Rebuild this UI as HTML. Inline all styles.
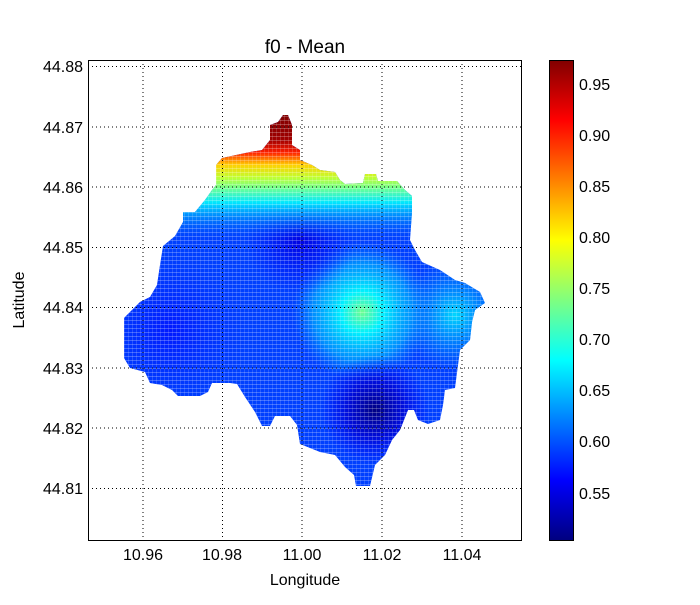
<!DOCTYPE html>
<html><head><style>
body{margin:0;background:#fff;width:700px;height:600px;overflow:hidden;font-family:"Liberation Sans",sans-serif}
</style></head><body>
<svg width="700" height="600" xmlns="http://www.w3.org/2000/svg" font-family="Liberation Sans, sans-serif">
<defs>
<clipPath id="c"><polygon points="216,185 216,165 222,158 250,152 262,150 270,140 270,125 278,122 283,115 288,115 292,125 292,145 300,150 300,160 312,165 320,170 335,172 340,180 345,184 363,183 365,174 376,174 378,181 397,181 405,190 412,196 412,212 410,240 415,250 422,262 440,270 455,280 465,283 480,292 485,303 475,310 472,322 470,340 460,350 455,388 445,390 443,405 440,420 428,424 418,420 414,410 408,410 400,430 392,440 385,455 375,465 370,486 356,486 354,475 345,467 335,455 320,452 300,444 297,425 290,416 275,416 270,426 262,426 255,412 245,397 237,384 230,383 212,383 208,392 200,396 178,396 172,390 162,385 150,383 145,372 130,368 124,358 124,318 140,302 150,297 157,285 160,265 163,246 175,236 183,222 183,212 195,212 205,200 212,190"/></clipPath>
<linearGradient id="top" x1="0" y1="115" x2="0" y2="240" gradientUnits="userSpaceOnUse">
<stop offset="0" stop-color="#800000"/><stop offset="0.2" stop-color="#a00000"/><stop offset="0.3" stop-color="#ff2000"/><stop offset="0.4" stop-color="#ffd000"/><stop offset="0.5" stop-color="#c0ff30"/><stop offset="0.6" stop-color="#60ffa0"/><stop offset="0.7" stop-color="#00e8ff"/><stop offset="0.85" stop-color="#0090ff" stop-opacity="0.6"/><stop offset="1" stop-color="#0050ff" stop-opacity="0"/>
</linearGradient>
<radialGradient id="g1" cx="362" cy="312" r="70" gradientUnits="userSpaceOnUse"><stop offset="0" stop-color="#70ff90"/><stop offset="0.3" stop-color="#00f0ff"/><stop offset="0.7" stop-color="#00b0ff" stop-opacity="0.7"/><stop offset="1" stop-color="#0080ff" stop-opacity="0"/></radialGradient>
<radialGradient id="g2" cx="455" cy="315" r="55" gradientUnits="userSpaceOnUse"><stop offset="0" stop-color="#00d8ff"/><stop offset="1" stop-color="#00a0ff" stop-opacity="0"/></radialGradient>
<radialGradient id="d1" cx="375" cy="410" r="55" gradientUnits="userSpaceOnUse"><stop offset="0" stop-color="#000080"/><stop offset="0.5" stop-color="#0000d0" stop-opacity="0.8"/><stop offset="1" stop-color="#0000ff" stop-opacity="0"/></radialGradient>
<radialGradient id="d2" cx="300" cy="240" r="55" gradientUnits="userSpaceOnUse"><stop offset="0" stop-color="#0000e0"/><stop offset="1" stop-color="#0010ff" stop-opacity="0"/></radialGradient>
<radialGradient id="d3" cx="170" cy="330" r="80" gradientUnits="userSpaceOnUse"><stop offset="0" stop-color="#0018ff"/><stop offset="1" stop-color="#0030ff" stop-opacity="0"/></radialGradient>
<linearGradient id="jet" x1="0" y1="540" x2="0" y2="60" gradientUnits="userSpaceOnUse">
<stop offset="0" stop-color="#000080"/><stop offset="0.125" stop-color="#0000ff"/><stop offset="0.375" stop-color="#00ffff"/><stop offset="0.625" stop-color="#ffff00"/><stop offset="0.875" stop-color="#ff0000"/><stop offset="1" stop-color="#800000"/>
</linearGradient>
<pattern id="dots" width="4" height="4" patternUnits="userSpaceOnUse"><rect x="0" y="0" width="4" height="1" fill="#fff" opacity="0.25"/><rect x="0" y="0" width="1" height="4" fill="#fff" opacity="0.15"/></pattern>
</defs>
<g clip-path="url(#c)">
<rect x="100" y="100" width="400" height="400" fill="#0040ff"/>
<rect x="100" y="100" width="400" height="400" fill="url(#g2)"/>
<rect x="100" y="100" width="400" height="400" fill="url(#g1)"/>
<rect x="100" y="100" width="400" height="400" fill="url(#d3)"/>
<rect x="100" y="100" width="400" height="400" fill="url(#d2)"/>
<rect x="100" y="100" width="400" height="400" fill="url(#d1)"/>
<rect x="100" y="100" width="400" height="400" fill="url(#top)"/>
<rect x="100" y="100" width="400" height="400" fill="url(#dots)"/>
</g>
<g stroke="#000" stroke-dasharray="1,3" stroke-width="1">
<line x1="143" y1="60" x2="143" y2="540"/><line x1="222.5" y1="60" x2="222.5" y2="540"/><line x1="302" y1="60" x2="302" y2="540"/><line x1="382" y1="60" x2="382" y2="540"/><line x1="462" y1="60" x2="462" y2="540"/>
<line x1="88" y1="66.5" x2="522" y2="66.5"/><line x1="88" y1="127" x2="522" y2="127"/><line x1="88" y1="187" x2="522" y2="187"/><line x1="88" y1="247.5" x2="522" y2="247.5"/><line x1="88" y1="307.5" x2="522" y2="307.5"/><line x1="88" y1="368" x2="522" y2="368"/><line x1="88" y1="428" x2="522" y2="428"/><line x1="88" y1="488.5" x2="522" y2="488.5"/>
</g>
<rect x="88.5" y="60.5" width="433" height="480" fill="none" stroke="#000"/>
<g font-size="16" text-anchor="middle">
<text x="143" y="560">10.96</text><text x="222" y="560">10.98</text><text x="302" y="560">11.00</text><text x="382" y="560">11.02</text><text x="462" y="560">11.04</text>
</g>
<g font-size="16" text-anchor="end">
<text x="83" y="72">44.88</text><text x="83" y="133">44.87</text><text x="83" y="193">44.86</text><text x="83" y="253">44.85</text><text x="83" y="313">44.84</text><text x="83" y="374">44.83</text><text x="83" y="434">44.82</text><text x="83" y="494">44.81</text>
</g>
<text x="305" y="53" font-size="19" text-anchor="middle">f0 - Mean</text>
<text x="305" y="585" font-size="16" text-anchor="middle">Longitude</text>
<text x="24" y="300" font-size="16" text-anchor="middle" transform="rotate(-90 24 300)">Latitude</text>
<rect x="549.5" y="60.5" width="24" height="480" fill="url(#jet)" stroke="#000"/>
<g font-size="16">
<text x="579" y="90">0.95</text><text x="579" y="141">0.90</text><text x="579" y="192">0.85</text><text x="579" y="243">0.80</text><text x="579" y="294">0.75</text><text x="579" y="345">0.70</text><text x="579" y="396">0.65</text><text x="579" y="447">0.60</text><text x="579" y="499">0.55</text>
</g>
</svg>
</body></html>
